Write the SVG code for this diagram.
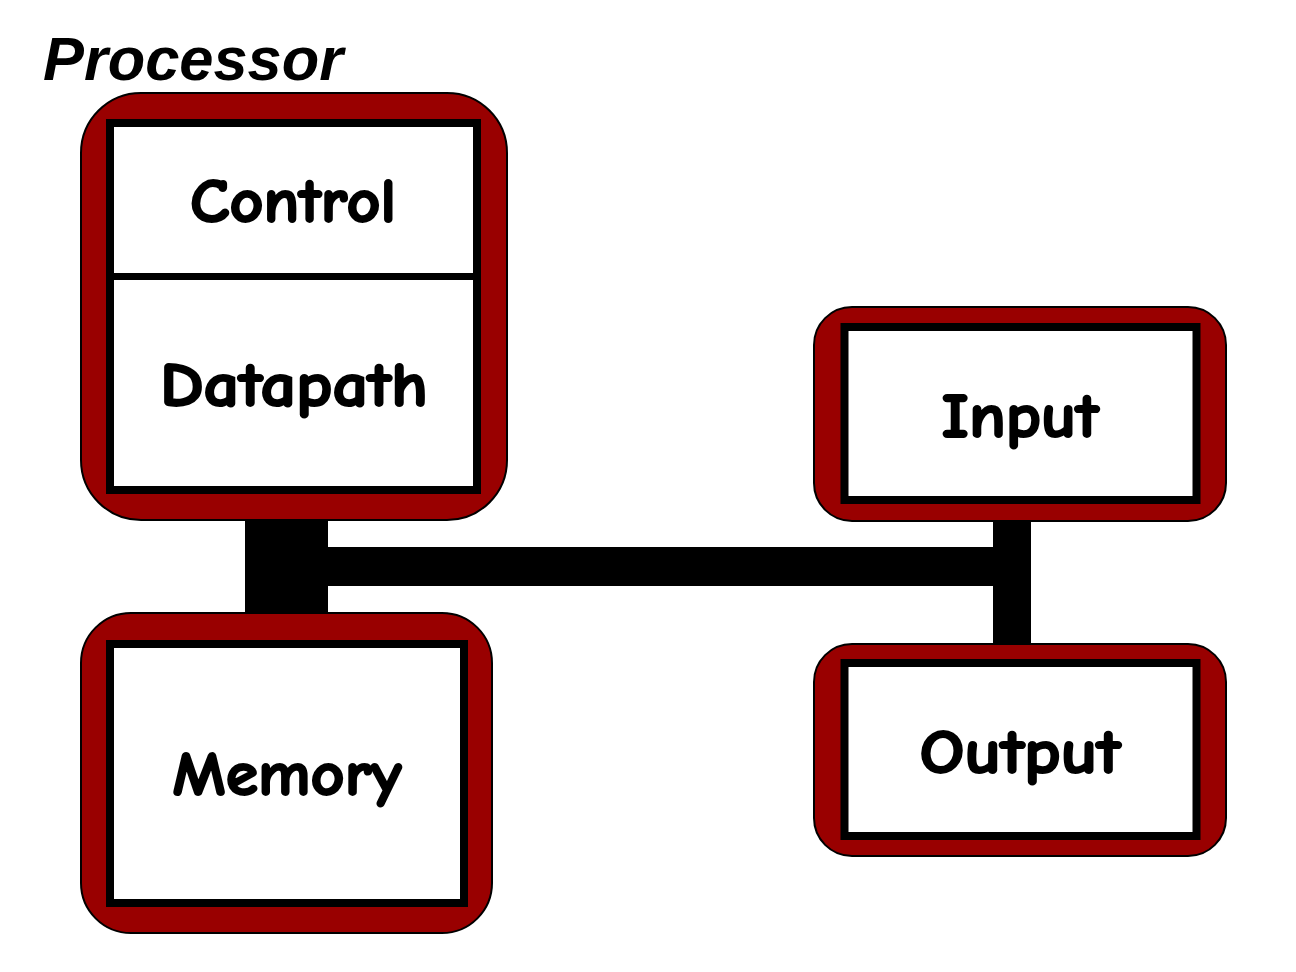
<svg xmlns="http://www.w3.org/2000/svg" width="1296" height="972" viewBox="0 0 1296 972">
<style>
.outer{fill:#990000;stroke:#000;stroke-width:2}
.inner{fill:#fff;stroke:#000;stroke-width:8}
.bus{fill:#000}
.lbl{font-family:"Comic Neue","Liberation Sans","DejaVu Sans",sans-serif;font-weight:bold;font-size:62px;fill:#000;stroke:#000;stroke-width:2;text-anchor:middle}
.title{font-family:"Liberation Sans",Arial,sans-serif;font-weight:bold;font-style:italic;font-size:61px;fill:#000}
</style>
<rect width="1296" height="972" fill="#fff"/>
<g id="connectors">
<rect class="bus" x="245" y="505" width="83" height="120"/>
<rect class="bus" x="320" y="547" width="690" height="39"/>
<rect class="bus" x="993" y="505" width="38" height="150"/>
</g>
<text class="title" x="43" y="80" textLength="300" lengthAdjust="spacingAndGlyphs">Processor</text>
<g id="processor">
<rect class="outer" x="81" y="93" width="426" height="427" rx="60"/>
<rect class="inner" x="110" y="123" width="367" height="367"/>
<line x1="110" y1="276.5" x2="477" y2="276.5" stroke="#000" stroke-width="7"/>
<text class="lbl" x="293" y="222" textLength="206" lengthAdjust="spacingAndGlyphs">Control</text>
<text class="lbl" x="294" y="406" textLength="268" lengthAdjust="spacingAndGlyphs">Datapath</text>
</g>
<g id="memory">
<rect class="outer" x="81" y="613" width="411" height="320" rx="50"/>
<rect class="inner" x="110" y="644" width="354" height="259"/>
<text class="lbl" x="287" y="795" textLength="229" lengthAdjust="spacingAndGlyphs">Memory</text>
</g>
<g id="input">
<rect class="outer" x="814" y="307" width="412" height="214" rx="38"/>
<rect class="inner" x="844.5" y="327" width="352" height="173"/>
<text class="lbl" x="1020" y="437" textLength="157" lengthAdjust="spacingAndGlyphs">Input</text>
</g>
<g id="output">
<rect class="outer" x="814" y="644" width="412" height="212" rx="38"/>
<rect class="inner" x="844.5" y="663" width="352" height="173"/>
<text class="lbl" x="1020" y="773" textLength="201" lengthAdjust="spacingAndGlyphs">Output</text>
</g>
</svg>
